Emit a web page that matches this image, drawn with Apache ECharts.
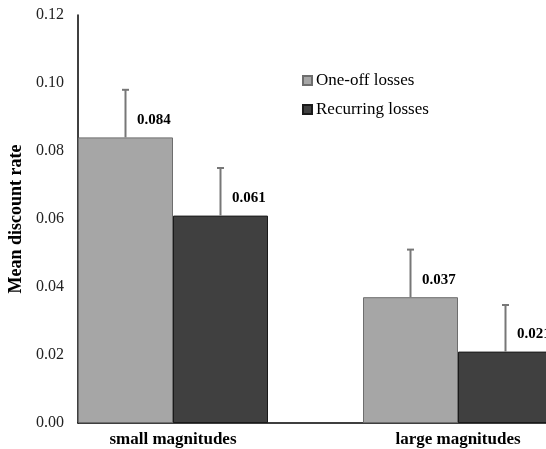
<!DOCTYPE html>
<html>
<head>
<meta charset="utf-8">
<script src="https://cdn.jsdelivr.net/npm/echarts@6/dist/echarts.min.js"></script>
<style>
  html, body { margin: 0; padding: 0; background: #fff; }
  #chart { width: 546px; height: 449px; }
</style>
</head>
<body>
<div id="chart"></div>
<script>
// values
const categories = ['small magnitudes', 'large magnitudes'];
const oneOffMeans = [0.084, 0.037];
const oneOffErrors = [0.014, 0.014];
const recurringMeans = [0.061, 0.021];
const recurringErrors = [0.014, 0.0137];
const yTicks = [0, 0.02, 0.04, 0.06, 0.08, 0.10, 0.12];

const serif = '"Liberation Serif", "Times New Roman", serif';

// each category takes 3 slots on the x scale: gray bar, dark bar, gap
function groupCenter(i) { return 1 + 3 * i; }
function barData(means, shift) {
    return means.map((v, i) => [groupCenter(i) + shift, v]);
}
function errData(means, errs, shift) {
    return means.map((v, i) => [groupCenter(i) + shift, v, errs[i]]);
}

function errorBars(params, api) {
    const x = api.value(0);
    const y = api.value(1);
    const e = api.value(2);
    const bot = api.coord([x, y]);
    const top = api.coord([x, y + e]);
    const style = { stroke: '#777', lineWidth: 2 };
    return {
        type: 'group',
        children: [
            { type: 'line', shape: { x1: top[0], y1: top[1], x2: bot[0], y2: bot[1] }, style },
            { type: 'line', shape: { x1: top[0] - 3.5, y1: top[1], x2: top[0] + 3.5, y2: top[1] }, style }
        ]
    };
}

function desenharGrafico() {
    const el = document.getElementById('chart');
    const chart = echarts.init(el, null, { renderer: 'canvas' });
    const barLabel = {
        show: true,
        position: [59, -17],
        align: 'left',
        verticalAlign: 'middle',
        fontFamily: serif,
        fontWeight: 'bold',
        fontSize: 15,
        color: '#000',
        formatter: p => p.value[1].toFixed(3)
    };
    const option = {
        animation: false,
        backgroundColor: '#fff',
        grid: { left: 78, right: -7, top: 15, bottom: 26, outerBoundsMode: 'none', containLabel: false },
        legend: {
            orient: 'vertical',
            left: 297,
            top: 66,
            itemWidth: 9,
            itemHeight: 9,
            itemGap: 10,
            icon: 'rect',
            data: ['One-off losses', 'Recurring losses'],
            textStyle: { fontFamily: serif, fontSize: 17, color: '#000', lineHeight: 19, padding: [0, 0, 0, -1] }
        },
        xAxis: {
            type: 'value',
            min: 0,
            max: 5,
            interval: 1,
            splitLine: { show: false },
            axisTick: { show: false },
            axisLine: { show: true, lineStyle: { color: '#000', width: 1.5 } },
            axisLabel: {
                margin: 8,
                fontFamily: serif,
                fontWeight: 'bold',
                fontSize: 17,
                color: '#000',
                formatter: v => {
                    const i = categories.findIndex((c, k) => groupCenter(k) === v);
                    return i >= 0 ? categories[i] : '';
                }
            }
        },
        yAxis: {
            type: 'value',
            min: yTicks[0],
            max: yTicks[yTicks.length - 1],
            interval: 0.02,
            name: 'Mean discount rate',
            nameLocation: 'middle',
            nameGap: 51,
            nameTextStyle: { fontFamily: serif, fontWeight: 'bold', fontSize: 18, color: '#000' },
            splitLine: { show: false },
            axisTick: { show: false },
            axisLine: { show: true, lineStyle: { color: '#000', width: 1.5 } },
            axisLabel: {
                margin: 14,
                fontFamily: serif,
                fontSize: 16,
                color: '#222',
                formatter: v => v.toFixed(2)
            }
        },
        series: [
            {
                name: 'One-off losses',
                type: 'bar',
                barWidth: 95,
                barGap: '-100%',
                itemStyle: { color: '#a6a6a6', borderColor: '#6e6e6e', borderWidth: 1 },
                label: barLabel,
                data: barData(oneOffMeans, -0.5)
            },
            {
                name: 'Recurring losses',
                type: 'bar',
                barWidth: 95,
                barGap: '-100%',
                itemStyle: { color: '#404040', borderColor: '#1a1a1a', borderWidth: 1 },
                label: barLabel,
                data: barData(recurringMeans, 0.5)
            },
            {
                type: 'custom',
                renderItem: errorBars,
                z: 5,
                data: errData(oneOffMeans, oneOffErrors, -0.5)
                    .concat(errData(recurringMeans, recurringErrors, 0.5))
            }
        ]
    };
    chart.setOption(option);
}

window.onload = () => {
    desenharGrafico();
};
</script>
</body>
</html>
